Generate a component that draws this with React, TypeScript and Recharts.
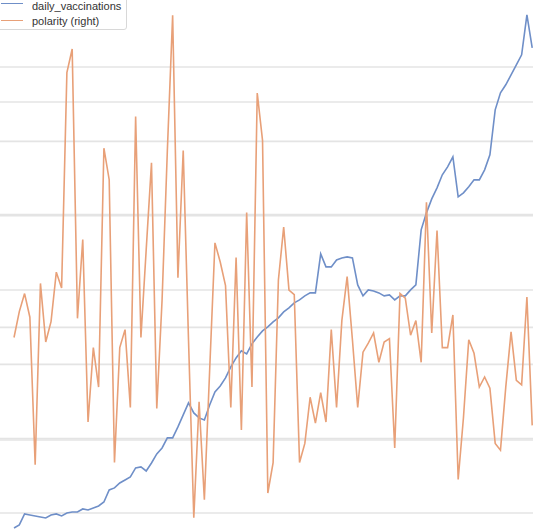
import { LineChart, Line, XAxis, YAxis, CartesianGrid } from 'recharts';

const dailyVaccinations = [
  79800, 83900, 98700, 97300, 96000, 94600, 93300, 97300, 98700, 96000,
  100000, 101400, 101400, 105400, 104000, 106700, 109400, 114800, 131000, 133700,
  140400, 144400, 148500, 160600, 161900, 156500, 167300, 179400, 187500, 201000,
  201000, 215800, 231900, 248100, 234600, 227900, 225200, 245400, 262900, 270900,
  281700, 296500, 308600, 318100, 314000, 327500, 336900, 345000, 350400, 357100,
  362500, 370600, 375900, 382700, 386700, 392100, 396100, 396100, 448600, 431100,
  431100, 440500, 443200, 444600, 443200, 406900, 392100, 400200, 398800, 396100,
  392100, 393400, 386700, 392100, 392100, 400200, 406900, 480900, 503800, 522600,
  537500, 555000, 565700, 579200, 525300, 530700, 538800, 548200, 548200, 561700,
  581900, 642400, 665300, 676100, 689600, 703000, 716500, 770300, 725900,
];

const polarity = [
  0.091, 0.114, 0.130, 0.109, -0.022, 0.139, 0.087, 0.105, 0.149, 0.135,
  0.326, 0.347, 0.108, 0.178, 0.016, 0.082, 0.047, 0.259, 0.231, -0.020,
  0.082, 0.098, 0.029, 0.287, 0.091, 0.169, 0.246, 0.028, 0.124, 0.257,
  0.377, 0.144, 0.257, 0.089, -0.069, 0.034, -0.053, 0.062, 0.175, 0.158,
  0.137, 0.029, 0.162, 0.009, 0.202, 0.047, 0.308, 0.266, -0.047, -0.020,
  0.142, 0.189, 0.133, 0.129, -0.020, -0.003, 0.038, 0.015, 0.042, 0.016,
  0.098, 0.029, 0.106, 0.145, 0.089, 0.029, 0.078, 0.086, 0.095, 0.069,
  0.087, 0.090, -0.007, 0.130, 0.126, 0.093, 0.106, 0.069, 0.211, 0.095,
  0.186, 0.082, 0.082, 0.111, -0.035, 0.020, 0.089, 0.077, 0.047, 0.056,
  0.046, -0.003, -0.009, 0.047, 0.096, 0.053, 0.049, 0.127, 0.013,
];

const leftTicks = [100000, 200000, 300000, 400000, 500000, 600000, 700000];
const rightTicks = [0, 0.1, 0.2, 0.3];

const data = dailyVaccinations.map((v, i) => ({
  i,
  daily_vaccinations: v,
  polarity: polarity[i],
}));

const BLUE = '#6f8fc8';
const ORANGE = '#e8a078';

export default function App() {
  return (
    <div style={{ position: 'fixed', left: 0, top: 0, width: 533, height: 532, background: '#fff' }}>
      <LineChart width={533} height={532} data={data} margin={{ top: 0, right: 0, left: 0, bottom: 0 }}>
        <XAxis dataKey="i" type="number" domain={[-2.65, 98.15]} hide />
        <YAxis yAxisId="left" domain={[74400, 790200]} hide />
        <YAxis yAxisId="right" orientation="right" domain={[-0.0816, 0.3905]} hide />
        <CartesianGrid
          yAxisId="left"
          vertical={false}
          horizontalValues={leftTicks}
          stroke="#e4e4e4"
          strokeWidth={1.6}
        />
        <CartesianGrid
          yAxisId="right"
          vertical={false}
          horizontalValues={rightTicks}
          stroke="#e4e4e4"
          strokeWidth={1.6}
        />
        <Line
          yAxisId="left"
          type="linear"
          dataKey="daily_vaccinations"
          stroke={BLUE}
          strokeWidth={1.6}
          dot={false}
          isAnimationActive={false}
        />
        <Line
          yAxisId="right"
          type="linear"
          dataKey="polarity"
          stroke={ORANGE}
          strokeWidth={1.6}
          dot={false}
          isAnimationActive={false}
        />
      </LineChart>
      <div
        style={{
          position: 'absolute',
          left: -4,
          top: -4,
          width: 131,
          height: 34,
          background: '#fff',
          border: '1px solid #d8d8d8',
          borderRadius: 3,
          fontFamily: '"Liberation Sans", Arial, sans-serif',
          fontSize: 11,
          color: '#333',
          boxSizing: 'border-box',
        }}
      >
        <div style={{ position: 'absolute', left: 4, top: 6, width: 22, height: 0, borderTop: `1.5px solid ${BLUE}` }} />
        <div style={{ position: 'absolute', left: 35, top: 3, lineHeight: '12px' }}>daily_vaccinations</div>
        <div style={{ position: 'absolute', left: 4, top: 23, width: 22, height: 0, borderTop: `1.5px solid ${ORANGE}` }} />
        <div style={{ position: 'absolute', left: 35, top: 18, lineHeight: '12px' }}>polarity (right)</div>
      </div>
    </div>
  );
}
